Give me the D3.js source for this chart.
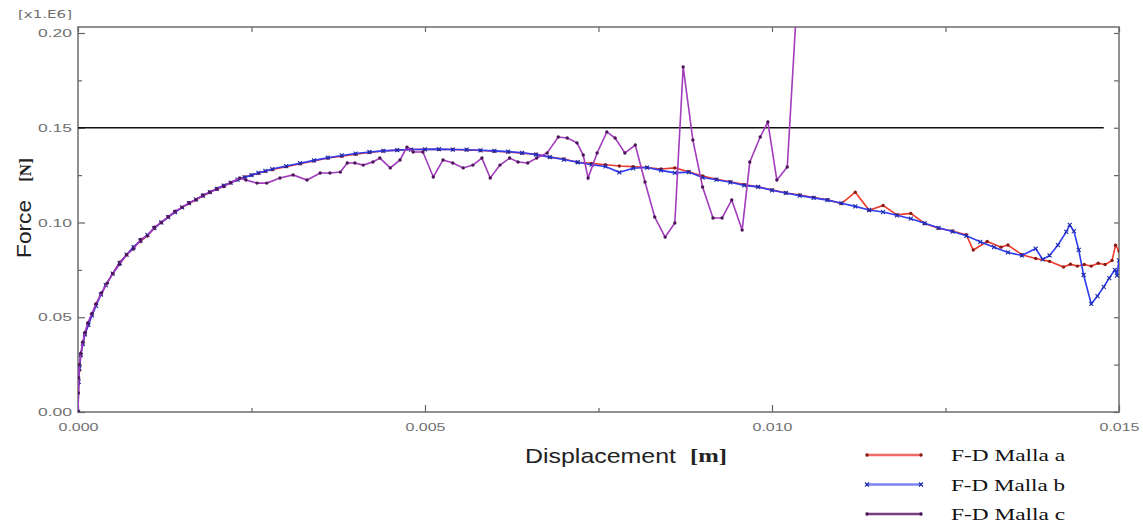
<!DOCTYPE html>
<html>
<head>
<meta charset="utf-8">
<script src="https://cdn.jsdelivr.net/npm/d3@7"></script>
<style>
  body { margin: 0; background: #fff; }
  #chart svg { display: block; }
</style>
</head>
<body>
<div id="chart"></div>
<script>
// displacement [m] / force [x1.E6 N]
const dispA = [0, 0.00001, 0.00002, 0.00004, 0.00007, 0.0001, 0.00015, 0.0002, 0.00026, 0.00033, 0.0004, 0.0005, 0.0006, 0.0007, 0.0008, 0.0009, 0.001, 0.0011, 0.0012, 0.0013, 0.0014, 0.0015, 0.0016, 0.0017, 0.0018, 0.0019, 0.002, 0.0021, 0.0022, 0.0023, 0.0024, 0.0025, 0.0026, 0.0027, 0.0028, 0.003, 0.0032, 0.0034, 0.0036, 0.0038, 0.004, 0.0042, 0.0044, 0.0046, 0.0048, 0.005, 0.0052, 0.0054, 0.0056, 0.0058, 0.006, 0.0062, 0.0064, 0.0066, 0.0068, 0.007, 0.0072, 0.0074, 0.0076, 0.0078, 0.008, 0.0082, 0.0084, 0.0086, 0.0088, 0.009, 0.0092, 0.0094, 0.0096, 0.0098, 0.01, 0.0102, 0.0104, 0.0106, 0.0108, 0.011, 0.0112, 0.0114, 0.0116, 0.0118, 0.012, 0.0122, 0.0124, 0.0126, 0.0128, 0.0129, 0.0131, 0.0133, 0.0134, 0.0136, 0.0138, 0.014, 0.0142, 0.0143, 0.0144, 0.0145, 0.0146, 0.0147, 0.0148, 0.0149, 0.01495, 0.015];
const forceA = [0, 0.015, 0.022, 0.030, 0.036, 0.041, 0.046, 0.051, 0.057, 0.062, 0.067, 0.073, 0.079, 0.083, 0.087, 0.090, 0.093, 0.097, 0.100, 0.103, 0.1055, 0.108, 0.110, 0.112, 0.114, 0.116, 0.118, 0.1195, 0.121, 0.1225, 0.124, 0.125, 0.126, 0.127, 0.128, 0.1295, 0.131, 0.1325, 0.134, 0.135, 0.136, 0.137, 0.1377, 0.1382, 0.1385, 0.1386, 0.1386, 0.1385, 0.1383, 0.138, 0.1376, 0.1372, 0.1366, 0.136, 0.1345, 0.1335, 0.1318, 0.1312, 0.1305, 0.1298, 0.1295, 0.129, 0.1282, 0.1288, 0.1268, 0.1245, 0.1228, 0.1215, 0.12, 0.1188, 0.1172, 0.1156, 0.1145, 0.1132, 0.112, 0.11, 0.116, 0.1065, 0.109, 0.104, 0.1048, 0.0995, 0.097, 0.0955, 0.0935, 0.0855, 0.09, 0.087, 0.0881, 0.083, 0.081, 0.0795, 0.0765, 0.078, 0.077, 0.0778, 0.077, 0.0785, 0.0778, 0.08, 0.088, 0.085];

const dispB = [0, 0.00001, 0.00002, 0.00004, 0.00007, 0.0001, 0.00015, 0.0002, 0.00026, 0.00033, 0.0004, 0.0005, 0.0006, 0.0007, 0.0008, 0.0009, 0.001, 0.0011, 0.0012, 0.0013, 0.0014, 0.0015, 0.0016, 0.0017, 0.0018, 0.0019, 0.002, 0.0021, 0.0022, 0.0023, 0.0024, 0.0025, 0.0026, 0.0027, 0.0028, 0.003, 0.0032, 0.0034, 0.0036, 0.0038, 0.004, 0.0042, 0.0044, 0.0046, 0.0048, 0.005, 0.0052, 0.0054, 0.0056, 0.0058, 0.006, 0.0062, 0.0064, 0.0066, 0.0068, 0.007, 0.0072, 0.0074, 0.0076, 0.0078, 0.008, 0.0082, 0.0084, 0.0086, 0.0088, 0.009, 0.0092, 0.0094, 0.0096, 0.0098, 0.01, 0.0102, 0.0104, 0.0106, 0.0108, 0.011, 0.0112, 0.0114, 0.0116, 0.0118, 0.012, 0.0122, 0.0124, 0.0126, 0.0128, 0.013, 0.0132, 0.0134, 0.0136, 0.0138, 0.0139, 0.014, 0.01412, 0.01424, 0.01429, 0.01435, 0.01442, 0.01449, 0.0146, 0.01469, 0.01478, 0.01486, 0.01494, 0.01497, 0.015];
const forceB = [0, 0.016, 0.023, 0.030, 0.036, 0.041, 0.046, 0.051, 0.056, 0.062, 0.067, 0.073, 0.0785, 0.083, 0.087, 0.0905, 0.0935, 0.097, 0.1, 0.1028, 0.1055, 0.108, 0.1102, 0.1122, 0.1142, 0.116, 0.1178, 0.1195, 0.121, 0.1226, 0.1238, 0.125, 0.1262, 0.1272, 0.1282, 0.1298, 0.1313, 0.1328, 0.1342, 0.1354, 0.1364, 0.1372, 0.1378, 0.1382, 0.1385, 0.1386, 0.1387, 0.1385, 0.1384, 0.1381, 0.1378, 0.1374, 0.1368, 0.1358, 0.1345, 0.1332, 0.1318, 0.1305, 0.1296, 0.1265, 0.1286, 0.129, 0.1275, 0.1262, 0.1266, 0.1237, 0.1226, 0.1212, 0.1196, 0.1188, 0.117, 0.1156, 0.1142, 0.113, 0.1118, 0.1102, 0.1085, 0.1066, 0.1055, 0.1038, 0.102, 0.0996, 0.0972, 0.0952, 0.093, 0.0898, 0.087, 0.0842, 0.0826, 0.0862, 0.0805, 0.0826, 0.0881, 0.095, 0.0987, 0.0955, 0.0855, 0.0723, 0.057, 0.0612, 0.066, 0.0707, 0.075, 0.072, 0.08];

const dispC = [0, 0.000005, 0.00001, 0.00002, 0.00004, 0.00007, 0.0001, 0.00014, 0.0002, 0.00026, 0.00034, 0.00042, 0.0005, 0.0006, 0.0007, 0.0008, 0.0009, 0.001, 0.0011, 0.0012, 0.0013, 0.0014, 0.0015, 0.0016, 0.0017, 0.0018, 0.0019, 0.002, 0.0021, 0.0022, 0.00233, 0.00242, 0.00258, 0.00272, 0.00291, 0.0031, 0.0033, 0.00349, 0.00363, 0.00378, 0.00388, 0.00399, 0.00411, 0.00425, 0.00435, 0.0045, 0.00464, 0.00474, 0.00483, 0.00497, 0.00512, 0.00526, 0.0054, 0.00555, 0.00569, 0.00582, 0.00594, 0.00608, 0.00622, 0.00634, 0.00648, 0.00661, 0.00676, 0.00692, 0.00705, 0.00719, 0.00728, 0.00735, 0.00748, 0.00762, 0.00774, 0.00788, 0.00803, 0.00817, 0.00831, 0.00846, 0.0086, 0.00872, 0.00886, 0.009, 0.00915, 0.00928, 0.00942, 0.00957, 0.00968, 0.00983, 0.00994, 0.01007, 0.01022, 0.01038];
const forceC = [0, 0.010, 0.018, 0.025, 0.031, 0.037, 0.042, 0.047, 0.052, 0.057, 0.063, 0.068, 0.073, 0.078, 0.083, 0.086, 0.091, 0.093, 0.0975, 0.1, 0.103, 0.106, 0.108, 0.1105, 0.112, 0.1145, 0.116, 0.1175, 0.119, 0.121, 0.1235, 0.1224, 0.1208, 0.1208, 0.1235, 0.1251, 0.1224, 0.1261, 0.1261, 0.1266, 0.1314, 0.1314, 0.1303, 0.1319, 0.134, 0.1288, 0.133, 0.1398, 0.1372, 0.1372, 0.124, 0.133, 0.1314, 0.1288, 0.1303, 0.134, 0.1235, 0.1303, 0.134, 0.1319, 0.1314, 0.134, 0.1367, 0.1451, 0.1446, 0.142, 0.1356, 0.1235, 0.1367, 0.1478, 0.1446, 0.1367, 0.1409, 0.1214, 0.1029, 0.0923, 0.0997, 0.1821, 0.1435, 0.1187, 0.1024, 0.1024, 0.1119, 0.096, 0.1319, 0.1451, 0.153, 0.1224, 0.1293, 0.2301];

const limitForce = 0.15;
const limitEnd = 0.01478;

const xTicks = [0, 0.005, 0.010, 0.015];
const xMinor = [0.0025, 0.0075, 0.0125];
const yTicks = [0, 0.05, 0.10, 0.15, 0.20];
const yMinor = [0.025, 0.075, 0.125, 0.175];
const seriesNames = ["F-D Malla a", "F-D Malla b", "F-D Malla c"];

const width = 1143,
  height = 524;
const plotLeft = 78,
  plotRight = 1119,
  plotTop = 27,
  plotBottom = 412;

const x = d3.scaleLinear().domain([0, 0.015]).range([plotLeft, plotRight]);
const y = d3.scaleLinear().domain([0, 0.2]).range([plotBottom, 33]);

const svg = d3
  .select("#chart")
  .append("svg")
  .attr("width", width)
  .attr("height", height)
  .style("font-family", "'DejaVu Sans', sans-serif");

svg
  .append("clipPath")
  .attr("id", "plot")
  .append("rect")
  .attr("x", plotLeft)
  .attr("y", plotTop)
  .attr("width", plotRight - plotLeft)
  .attr("height", plotBottom - plotTop);

// frame
svg
  .append("rect")
  .attr("x", plotLeft)
  .attr("y", plotTop)
  .attr("width", plotRight - plotLeft)
  .attr("height", plotBottom - plotTop)
  .attr("fill", "none")
  .attr("stroke", "#858585")
  .attr("stroke-width", 1.8);

// ticks pointing inwards on all four sides; labels stretched like the original
function tickStyle(labelWidth) {
  return function (g) {
    g.select(".domain").remove();
    g.selectAll("line").attr("stroke", "#666").attr("stroke-width", 1.2);
    g.selectAll("text")
      .attr("fill", "#707070")
      .attr("textLength", labelWidth)
      .attr("lengthAdjust", "spacingAndGlyphs")
      .style("font-size", "11.5px");
  };
}

svg
  .append("g")
  .attr("transform", `translate(0,${plotBottom})`)
  .call(d3.axisBottom(x).tickValues(xTicks).tickFormat(d3.format(".3f")).tickSizeInner(-7).tickPadding(11))
  .call(tickStyle(40));
svg
  .append("g")
  .attr("transform", `translate(0,${plotBottom})`)
  .call(d3.axisBottom(x).tickValues(xMinor).tickFormat("").tickSizeInner(-4))
  .call(tickStyle(0));
svg
  .append("g")
  .attr("transform", `translate(0,${plotTop})`)
  .call(d3.axisTop(x).tickValues(xTicks.concat(xMinor)).tickFormat("").tickSizeInner(-5))
  .call(tickStyle(0));

svg
  .append("g")
  .attr("transform", `translate(${plotLeft},0)`)
  .call(d3.axisLeft(y).tickValues(yTicks).tickFormat(d3.format(".2f")).tickSizeInner(-7).tickPadding(6))
  .call(tickStyle(34));
svg
  .append("g")
  .attr("transform", `translate(${plotLeft},0)`)
  .call(d3.axisLeft(y).tickValues(yMinor).tickFormat("").tickSizeInner(-4))
  .call(tickStyle(0));
svg
  .append("g")
  .attr("transform", `translate(${plotRight},0)`)
  .call(d3.axisRight(y).tickValues(yTicks.concat(yMinor)).tickFormat("").tickSizeInner(-5))
  .call(tickStyle(0));

svg
  .append("text")
  .attr("x", 18)
  .attr("y", 18)
  .attr("fill", "#707070")
  .attr("textLength", 54)
  .attr("lengthAdjust", "spacingAndGlyphs")
  .style("font-size", "10.5px")
  .text("[x1.E6]");

// limit line
svg
  .append("line")
  .attr("x1", x(0))
  .attr("x2", x(limitEnd))
  .attr("y1", y(limitForce))
  .attr("y2", y(limitForce))
  .attr("stroke", "#111")
  .attr("stroke-width", 1.6);

const series = [
  { name: seriesNames[0], xs: dispA, ys: forceA, color: "#ec3b2c", mark: "#8a1a14", legend: "#f06a6a", shape: "dot" },
  { name: seriesNames[1], xs: dispB, ys: forceB, color: "#2f3cf2", mark: "#1d2aa8", legend: "#7c82f0", shape: "cross" },
  { name: seriesNames[2], xs: dispC, ys: forceC, color: "#a23bbd", mark: "#4a1658", legend: "#7a3f7e", shape: "dot" },
];

const line = d3
  .line()
  .x((d) => x(d[0]))
  .y((d) => y(d[1]));

const plot = svg.append("g").attr("clip-path", "url(#plot)");

series.forEach((s) => {
  const pts = s.xs.map((v, i) => [v, s.ys[i]]);
  plot
    .append("path")
    .datum(pts)
    .attr("fill", "none")
    .attr("stroke", s.color)
    .attr("stroke-width", 1.6)
    .attr("d", line);
  drawMarks(plot, pts.map((p) => [x(p[0]), y(p[1])]), s);
});

function drawMarks(g, pts, s) {
  if (s.shape === "cross") {
    g.selectAll(null)
      .data(pts)
      .enter()
      .append("path")
      .attr("d", (p) => `M${p[0] - 2},${p[1] - 2}L${p[0] + 2},${p[1] + 2}M${p[0] - 2},${p[1] + 2}L${p[0] + 2},${p[1] - 2}`)
      .attr("stroke", s.mark)
      .attr("stroke-width", 1.1);
  } else {
    g.selectAll(null)
      .data(pts)
      .enter()
      .append("circle")
      .attr("cx", (p) => p[0])
      .attr("cy", (p) => p[1])
      .attr("r", 1.7)
      .attr("fill", s.mark);
  }
}

// axis titles
svg
  .append("text")
  .attr("transform", "translate(31,229) rotate(-90)")
  .attr("text-anchor", "middle")
  .attr("fill", "#222")
  .attr("textLength", 58)
  .attr("lengthAdjust", "spacingAndGlyphs")
  .style("font-family", "'Liberation Sans', Arial, sans-serif")
  .style("font-size", "20px")
  .text("Force");
svg
  .append("text")
  .attr("transform", "translate(31,170) rotate(-90)")
  .attr("text-anchor", "middle")
  .attr("fill", "#222")
  .style("font-family", "'Liberation Serif', serif")
  .style("font-weight", "bold")
  .style("font-size", "17px")
  .text("[N]");

svg
  .append("text")
  .attr("x", 525)
  .attr("y", 463)
  .attr("fill", "#222")
  .attr("textLength", 151)
  .attr("lengthAdjust", "spacingAndGlyphs")
  .style("font-family", "'Liberation Sans', Arial, sans-serif")
  .style("font-size", "21px")
  .text("Displacement");
svg
  .append("text")
  .attr("x", 690)
  .attr("y", 462)
  .attr("fill", "#222")
  .attr("textLength", 37)
  .attr("lengthAdjust", "spacingAndGlyphs")
  .style("font-family", "'Liberation Serif', serif")
  .style("font-weight", "bold")
  .style("font-size", "18px")
  .text("[m]");

// legend
const legend = svg
  .selectAll(".legend")
  .data(series)
  .enter()
  .append("g")
  .attr("class", "legend")
  .attr("transform", (d, i) => `translate(866,${455 + i * 29.5})`);

legend
  .append("line")
  .attr("x1", 0)
  .attr("x2", 56)
  .attr("stroke", (d) => d.legend)
  .attr("stroke-width", 2.5);

legend.each(function (d) {
  drawMarks(d3.select(this), [[1, 0], [55, 0]], d);
});

legend
  .append("text")
  .attr("x", 85)
  .attr("y", 6)
  .attr("textLength", 114)
  .attr("lengthAdjust", "spacingAndGlyphs")
  .style("font-family", "'Liberation Serif', 'Times New Roman', serif")
  .style("font-size", "17px")
  .attr("fill", "#111")
  .text((d) => d.name);
</script>
</body>
</html>
